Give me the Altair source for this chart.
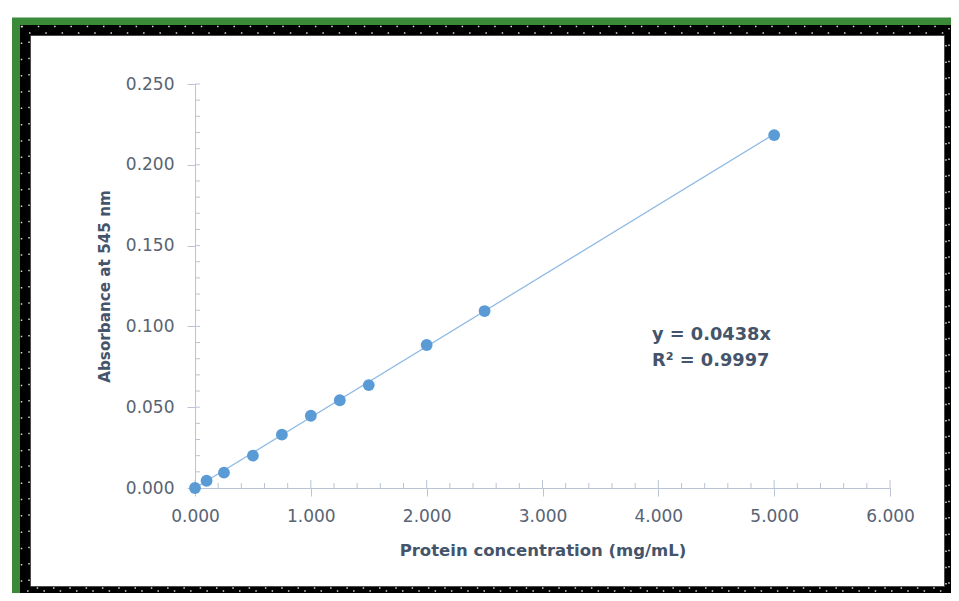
import altair as alt
import pandas as pd

# ---- data -------------------------------------------------------------
conc = [0.0, 0.1, 0.25, 0.5, 0.75, 1.0, 1.25, 1.5, 2.0, 2.5, 5.0]
absorb = [0.000, 0.0045, 0.0095, 0.020, 0.033, 0.0447, 0.0543, 0.0637, 0.0885, 0.1095, 0.2184]

trend_x = [0.0, 5.0]
trend_y = [0.0, 0.219]

x_major = [0, 1, 2, 3, 4, 5, 6]
x_minor = [0.2, 0.4, 0.6, 0.8, 1.2, 1.4, 1.6, 1.8, 2.2, 2.4, 2.6, 2.8,
           3.2, 3.4, 3.6, 3.8, 4.2, 4.4, 4.6, 4.8, 5.2, 5.4, 5.6, 5.8]
y_major = [0.0, 0.05, 0.10, 0.15, 0.20, 0.25]
y_minor = [0.01, 0.02, 0.03, 0.04, 0.06, 0.07, 0.08, 0.09, 0.11, 0.12, 0.13, 0.14,
           0.16, 0.17, 0.18, 0.19, 0.21, 0.22, 0.23, 0.24]

eq_text = ["y = 0.0438x", "R² = 0.9997"]

W, H = 695, 404
AXIS_C = "#BAC4D4"
LABEL_C = "#586374"
TITLE_C = "#44546A"

pts = pd.DataFrame({"x": conc, "y": absorb})
trend = pd.DataFrame({"x": trend_x, "y": trend_y})

xs = alt.Scale(domain=[0, 6], nice=False, zero=False)
ys = alt.Scale(domain=[0, 0.25], nice=False, zero=False)

one = pd.DataFrame({"k": [0]})


def frame(x1, y1, x2, y2, color, sw, dash=None):
    kw = dict(fillOpacity=0, stroke=color, strokeWidth=sw)
    if dash:
        kw["strokeDash"] = dash
    return alt.Chart(one).mark_rect(**kw).encode(
        x=alt.value(x1), x2=alt.value(x2), y=alt.value(y1), y2=alt.value(y2))


green = frame(-179, -62.5, 800, 560, "#3A8A3A", 8)
black = frame(-169.5, -53.5, 755, 508, "#000000", 11)
inner = frame(-164.5, -48.5, 749.5, 502.5, "#4A4A4A", 1)
dots1 = frame(-173.5, -57.5, 754, 507, "#D8D8D8", 1.5, [1.5, 14.8])
dots2 = frame(-166, -51, 751, 504, "#D8D8D8", 1.5, [1.5, 14.8])

xmaj = alt.Chart(pd.DataFrame({"t": x_major})).mark_rule(color=AXIS_C, strokeWidth=1).encode(
    x=alt.X("t:Q", scale=xs), y=alt.value(H - 8), y2=alt.value(H))
xmin = alt.Chart(pd.DataFrame({"t": x_minor})).mark_rule(color=AXIS_C, strokeWidth=1).encode(
    x=alt.X("t:Q", scale=xs), y=alt.value(H - 5), y2=alt.value(H))
ymaj = alt.Chart(pd.DataFrame({"t": y_major})).mark_rule(color=AXIS_C, strokeWidth=1).encode(
    y=alt.Y("t:Q", scale=ys), x=alt.value(0), x2=alt.value(5))
ymin = alt.Chart(pd.DataFrame({"t": y_minor})).mark_rule(color=AXIS_C, strokeWidth=1).encode(
    y=alt.Y("t:Q", scale=ys), x=alt.value(0), x2=alt.value(5))

line = alt.Chart(trend).mark_line(color="#8FBBE4", strokeWidth=1.3).encode(
    x=alt.X("x:Q", scale=xs), y=alt.Y("y:Q", scale=ys))

points = alt.Chart(pts).mark_circle(size=140, opacity=1, color="#5B9BD5").encode(
    x=alt.X("x:Q", scale=xs,
            axis=alt.Axis(title="Protein concentration (mg/mL)", values=x_major, format=".3f",
                          grid=False, domainColor=AXIS_C, tickColor=AXIS_C, tickSize=8,
                          labelFont="DejaVu Sans", labelFontSize=17, labelColor=LABEL_C,
                          labelPadding=20, labelBaseline="middle", labelFlush=False,
                          titleFont="DejaVu Sans", titleFontSize=16.5, titleFontWeight="bold",
                          titleColor=TITLE_C, titleBaseline="alphabetic", titleY=67)),
    y=alt.Y("y:Q", scale=ys,
            axis=alt.Axis(title="Absorbance at 545 nm", values=y_major, format=".3f",
                          grid=False, domainColor=AXIS_C, tickColor=AXIS_C, tickSize=8,
                          labelFont="DejaVu Sans", labelFontSize=17, labelColor=LABEL_C,
                          labelPadding=13, labelFlush=False,
                          titleFont="DejaVu Sans", titleFontSize=15.2, titleFontWeight="bold",
                          titleColor=TITLE_C, titleX=-91, titleBaseline="middle")),
)

txt1 = alt.Chart(pd.DataFrame({"s": [eq_text[0]]})).mark_text(
    align="left", baseline="middle", font="DejaVu Sans", fontSize=17.8, fontWeight="bold",
    color=TITLE_C).encode(text="s:N", x=alt.value(457), y=alt.value(251))
txt2 = alt.Chart(pd.DataFrame({"s": [eq_text[1]]})).mark_text(
    align="left", baseline="middle", font="DejaVu Sans", fontSize=17.8, fontWeight="bold",
    color=TITLE_C).encode(text="s:N", x=alt.value(457), y=alt.value(277))

chart = alt.layer(
    green, black, inner, dots1, dots2,
    xmaj, xmin, ymaj, ymin, line, points, txt1, txt2
).properties(
    width=W, height=H,
    autosize=alt.AutoSizeParams(type="none"),
    padding={"left": 187, "top": 76, "right": 61, "bottom": 105},
    background="white",
).configure_view(strokeWidth=0)

chart.save("out.html", embed_options={"renderer": "svg", "actions": False})
